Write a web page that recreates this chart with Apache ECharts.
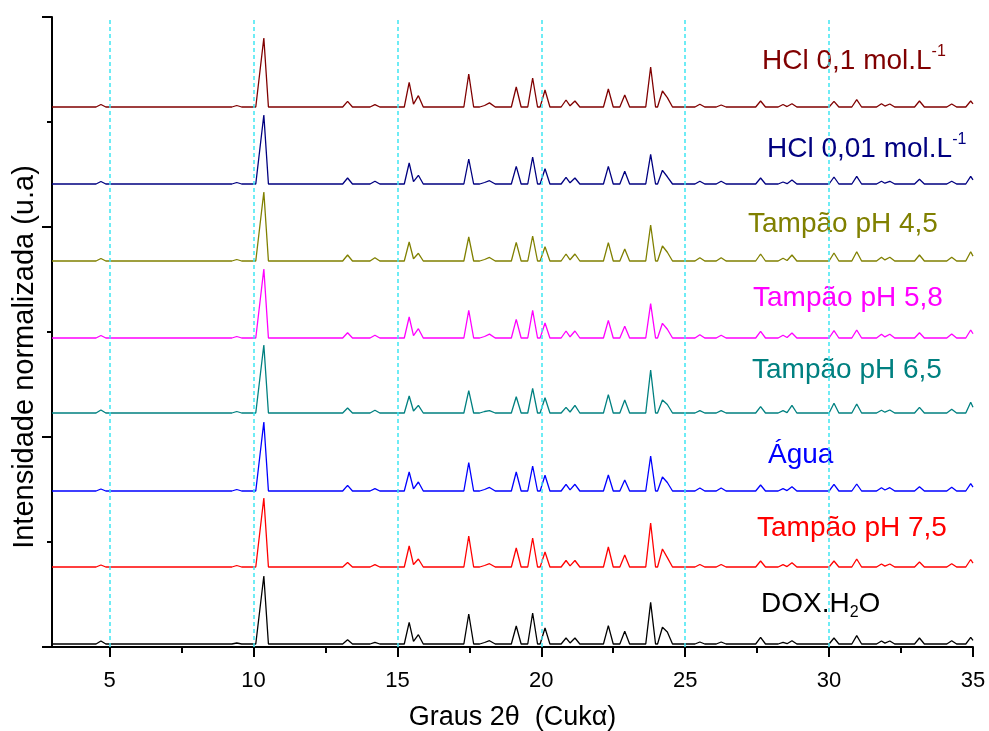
<!DOCTYPE html>
<html>
<head>
<meta charset="utf-8">
<script src="https://cdn.jsdelivr.net/npm/echarts@6/dist/echarts.min.js"></script>
<style>
  html, body { margin: 0; padding: 0; background: #ffffff; }
  #chart { width: 989px; height: 731px; }
</style>
</head>
<body>
<div id="chart"></div>
<script>
// Diffraction peak positions (2θ, degrees), shared by every sample
const peakPositions = [4.70, 9.42, 10.36, 13.27, 14.22, 15.41, 15.73, 17.48, 18.03, 18.23,
  19.13, 19.70, 20.13, 20.86, 21.17, 22.33, 22.90, 23.80, 24.21, 24.39,
  25.51, 26.25, 27.62, 28.40, 28.71, 30.17, 30.96, 31.82, 32.11, 33.14, 34.26, 34.92];

// Peak intensities above each sample's own baseline (u.a)
const hcl01 = [2.5, 1.5, 69, 5.7, 2.3, 24.7, 11.3, 33, 1.5, 5, 20, 29, 17, 7, 6, 18, 12, 40, 16, 10,
  2.7, 2, 6, 2.5, 3.3, 5.7, 7.3, 3.3, 3, 6, 3, 6];
const hcl001 = [2.5, 1.5, 69, 6, 2.7, 21, 8.7, 25, 1.5, 4, 17.7, 27, 15.3, 6.7, 6, 17.7, 12.7, 29.7, 13.7, 7.7,
  2.7, 2.7, 6, 2, 4, 7, 7.7, 2.7, 2.7, 4.7, 2.7, 7.7];
const ph45 = [2.5, 1.5, 69, 6, 3.3, 19, 7.7, 24, 1.5, 4.3, 18.7, 25, 14.3, 7, 7, 18.3, 12, 36, 15, 9.3,
  3.3, 3.3, 7, 2.7, 6, 8, 9.3, 3.7, 3.7, 6, 3.7, 9.3];
const ph58 = [2.5, 1.5, 69, 5.3, 2.7, 21, 9.3, 27.7, 1.5, 4.7, 18.7, 27.7, 15, 7, 7, 17.7, 11.7, 34.3, 14.7, 9.3,
  3.3, 2.7, 6.7, 2.7, 5, 7.3, 8, 3.7, 3.7, 5.3, 4, 8];
const ph65 = [3, 1.5, 68, 5, 2.7, 17, 7.7, 22.3, 1.5, 3, 16.3, 24.7, 15.3, 5.7, 7.7, 18.3, 13, 43, 13, 9,
  2.3, 2.3, 6.3, 2.3, 7.7, 9.7, 9, 2.7, 3, 5.7, 3.7, 10.7];
const agua = [2, 1.5, 69, 5.7, 2.3, 19, 9, 28.3, 1.5, 4.3, 19, 25, 15.7, 6.7, 6.7, 16, 11, 35, 14, 9,
  3, 3, 6, 2.3, 4.3, 6.7, 7, 3.3, 3.3, 4.3, 3.7, 7.3];
const ph75 = [2, 1.5, 69, 4.5, 2.3, 21, 8, 31, 1.5, 4, 19, 29, 15, 6.5, 6.5, 20, 12, 44, 18, 10,
  2.5, 2.5, 6, 2.3, 4.3, 6, 8, 3, 3, 5, 3.3, 7.5];
const doxH2O = [3, 1, 68, 4.3, 1.7, 21.7, 9.3, 30, 1.5, 4, 18, 31, 16, 6, 6, 18.3, 12.7, 41.7, 16.7, 12.7,
  2, 2, 6.7, 1.7, 3.3, 6, 8.3, 3, 3, 6, 3.3, 6.7];

// Vertical offset of each pattern in the stack (u.a)
const baselines = [540, 463, 386, 309, 234, 156, 80, 3];

const xTicks = [5, 10, 15, 20, 25, 30, 35];
const xMinorTicks = [7.5, 12.5, 17.5, 22.5, 27.5, 32.5];
const guideLines = [5, 10, 15, 20, 25, 30];

const samples = [
  { heights: hcl01,  color: '#800000', label: ['HCl 0,1 mol.L', '-1', 'sup'] },
  { heights: hcl001, color: '#000080', label: ['HCl 0,01 mol.L', '-1', 'sup'] },
  { heights: ph45,   color: '#808000', label: ['Tampão pH 4,5'] },
  { heights: ph58,   color: '#ff00ff', label: ['Tampão pH 5,8'] },
  { heights: ph65,   color: '#008080', label: ['Tampão pH 6,5'] },
  { heights: agua,   color: '#0000ff', label: ['Água'] },
  { heights: ph75,   color: '#ff0000', label: ['Tampão pH 7,5'] },
  { heights: doxH2O, color: '#000000', label: ['DOX.H', '2', 'sub', 'O'] }
];

// label anchor: left edge and vertical centre, in pixels
const labelAnchors = [[762, 61], [767, 149], [748, 227], [753, 301], [752, 373], [768, 458], [757, 531], [761, 607]];

const X_MIN = 3, X_MAX = 35;
const FONT = '"Liberation Sans", Arial, Helvetica, sans-serif';

// half-widths of the triangular peak profile (left / right), in degrees
function peakWidths(h) { return h > 50 ? [0.28, 0.16] : [0.17, 0.17]; }

function buildTrace(heights, base) {
  const xs = new Set([X_MIN, X_MAX]);
  peakPositions.forEach((p, i) => {
    const [wl, wr] = peakWidths(heights[i]);
    xs.add(+(p - wl).toFixed(3));
    xs.add(p);
    xs.add(+(p + wr).toFixed(3));
  });
  return [...xs].filter(x => x >= X_MIN && x <= X_MAX).sort((a, b) => a - b).map(x => {
    let y = base;
    peakPositions.forEach((p, i) => {
      const [wl, wr] = peakWidths(heights[i]);
      const w = x < p ? wl : wr;
      const d = Math.abs(x - p);
      if (d < w) y += heights[i] * (1 - d / w);
    });
    return [x, +y.toFixed(3)];
  });
}

const series = [{
  type: 'line',
  data: [],
  silent: true,
  z: 1,
  markLine: {
    silent: true,
    symbol: 'none',
    label: { show: false },
    lineStyle: { color: '#3fe6f2', width: 1.5, type: [4, 3] },
    data: guideLines.map(v => ({ xAxis: v }))
  }
}];

samples.forEach((s, i) => {
  series.push({
    type: 'line',
    data: buildTrace(s.heights, baselines[i]),
    showSymbol: false,
    silent: true,
    z: 2,
    lineStyle: { color: s.color, width: 1.3 },
    itemStyle: { color: s.color }
  });
});

function labelText(parts) {
  let t = '{m|' + parts[0] + '}';
  if (parts.length > 1) t += '{' + parts[2] + '|' + parts[1] + '}';
  if (parts.length > 3) t += '{m|' + parts[3] + '}';
  return t;
}

const graphics = samples.map((s, i) => ({
  type: 'text',
  left: labelAnchors[i][0],
  top: labelAnchors[i][1] - 17,
  silent: true,
  style: {
    text: labelText(s.label),
    fill: s.color,
    rich: {
      m: { fontSize: 28, lineHeight: 34, fontFamily: FONT, fill: s.color },
      sup: { fontSize: 16, lineHeight: 19, verticalAlign: 'top', fontFamily: FONT, fill: s.color },
      sub: { fontSize: 16, lineHeight: 6, verticalAlign: 'bottom', fontFamily: FONT, fill: s.color }
    }
  }
}));

// vertical axis title, drawn rotated beside the axis
graphics.push({
  type: 'text',
  x: 25,
  y: 357,
  rotation: Math.PI / 2,
  silent: true,
  style: {
    text: 'Intensidade normalizada (u.a)',
    fill: '#000',
    font: '29px ' + FONT,
    align: 'center',
    verticalAlign: 'middle'
  }
});

const chart = echarts.init(document.getElementById('chart'), null, { renderer: 'canvas' });
chart.setOption({
  animation: false,
  backgroundColor: '#ffffff',
  grid: { left: 52, right: 16, top: 17, bottom: 84, containLabel: false, outerBoundsMode: 'none' },
  xAxis: [{
    type: 'value',
    min: X_MIN,
    max: X_MAX,
    axisLine: { show: true, lineStyle: { color: '#000', width: 2 } },
    axisTick: { show: true, customValues: xTicks, length: 10, inside: false, lineStyle: { color: '#000', width: 2 } },
    axisLabel: { show: true, customValues: xTicks, color: '#000', fontSize: 22, fontFamily: FONT, margin: 23 },
    splitLine: { show: false },
    name: 'Graus 2θ  (Cukα)',
    nameLocation: 'middle',
    nameGap: 57,
    nameTextStyle: { color: '#000', fontSize: 27, fontFamily: FONT }
  }, {
    type: 'value',
    min: X_MIN,
    max: X_MAX,
    position: 'bottom',
    axisLine: { show: false },
    axisTick: { show: true, customValues: xMinorTicks, length: 6, inside: false, lineStyle: { color: '#000', width: 2 } },
    axisLabel: { show: false },
    splitLine: { show: false }
  }],
  yAxis: {
    type: 'value',
    min: 0,
    max: 630,
    interval: 210,
    axisLine: { show: true, lineStyle: { color: '#000', width: 2 } },
    axisTick: { show: true, length: 10, inside: false, lineStyle: { color: '#000', width: 2 } },
    minorTick: { show: true, splitNumber: 2, length: 5, lineStyle: { color: '#000', width: 2 } },
    axisLabel: { show: false },
    splitLine: { show: false },
    minorSplitLine: { show: false }
  },
  series: series,
  graphic: graphics
});
</script>
</body>
</html>
